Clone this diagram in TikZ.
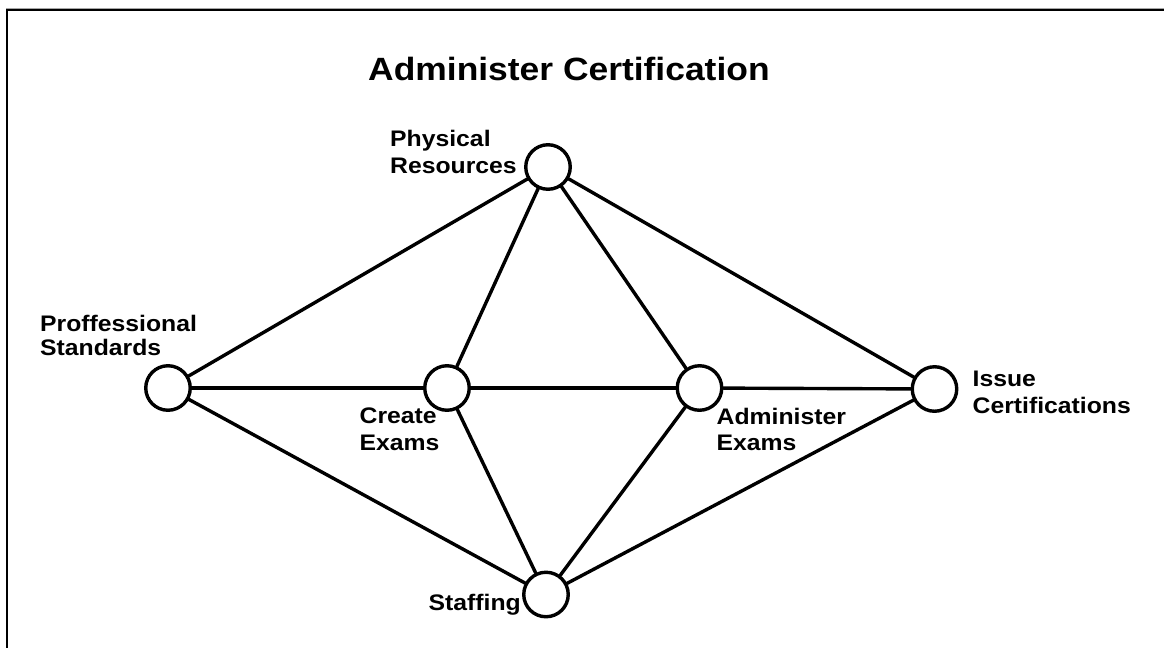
\documentclass[tikz,border=0pt]{standalone}
\usepackage{fontspec}
\setmainfont{Liberation Sans}[FakeStretch=1.1]
\begin{document}
\begin{tikzpicture}[x=1pt,y=-1pt,
  hub/.style={circle,draw=black,line width=3.4pt,fill=white,minimum size=44.5pt,inner sep=0pt},
  link/.style={line width=3.4pt,line cap=round},
  lbl/.style={anchor=base west,inner sep=0pt,font=\fontsize{22.5}{27}\selectfont\bfseries},
  ttl/.style={anchor=base west,inner sep=0pt,font=\fontsize{32.2}{38}\selectfont\bfseries}]
\useasboundingbox (0,0) rectangle (1164,648);
\fill[white] (0,0) rectangle (1164,648);
% frame
\draw[gray!70,line width=1pt] (6,8) -- (1164,8);
\draw[black,line width=2pt] (6,10) -- (1164,10);
\draw[black,line width=2pt] (7,9) -- (7,648);
% title
\node[ttl] (title) at (368,80) {Administer Certification};
% hubs
\node[hub] (pr) at (548,167) {};
\node[hub] (ps) at (168,388) {};
\node[hub] (ce) at (447,388) {};
\node[hub] (ae) at (699.5,388) {};
\node[hub] (ic) at (934.5,389) {};
\node[hub] (st) at (546,594.5) {};
% connectors
\draw[link] (ps) -- (pr);
\draw[link] (ps) -- (ce);
\draw[link] (ps) -- (st);
\draw[link] (pr) -- (ce);
\draw[link] (pr) -- (ae);
\draw[link] (pr) -- (ic);
\draw[link] (ce) -- (ae);
\draw[link] (ce) -- (st);
\draw[link] (ae) -- (ic);
\draw[link] (ae) -- (st);
\draw[link] (ic) -- (st);
% labels
\node[lbl] (pr1) at (390,146.5) {Physical};
\node[lbl] (pr2) at (390,173) {Resources};
\node[lbl] (ps1) at (40,331.5) {Proffessional};
\node[lbl] (ps2) at (40,355) {Standards};
\node[lbl] (ce1) at (359.5,423.5) {Create};
\node[lbl] (ce2) at (359.5,450) {Exams};
\node[lbl] (ae1) at (716.5,424) {Administer};
\node[lbl] (ae2) at (716.5,450) {Exams};
\node[lbl] (ic1) at (972.5,386) {Issue};
\node[lbl] (ic2) at (972.5,413) {Certifications};
\node[lbl] (st1) at (428.5,610) {Staffing};
\end{tikzpicture}
\end{document}
